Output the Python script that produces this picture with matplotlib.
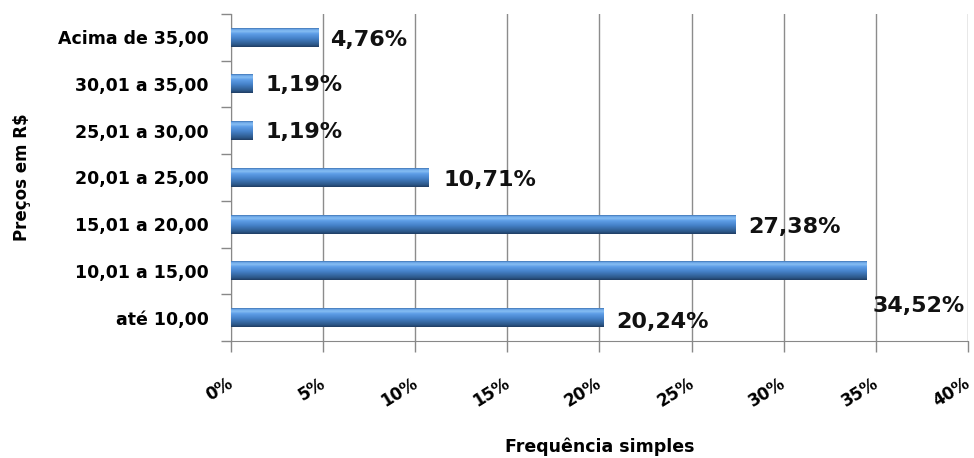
import numpy as np
from matplotlib import pyplot as plt
from matplotlib.colors import LinearSegmentedColormap

categories = ['até 10,00', '10,01 a 15,00', '15,01 a 20,00', '20,01 a 25,00',
              '25,01 a 30,00', '30,01 a 35,00', 'Acima de 35,00']
values = [20.24, 34.52, 27.38, 10.71, 1.19, 1.19, 4.76]
labels = ['20,24%', '34,52%', '27,38%', '10,71%', '1,19%', '1,19%', '4,76%']
# label offsets (points) from bar end; the 34,52% one was dragged below the bar
offsets = [(9, -3), (4, -25), (9, -2), (11, -2), (9, -1), (9, -1), (8, -2)]
xticks = [0, 5, 10, 15, 20, 25, 30, 35, 40]

plt.rcParams['font.family'] = ['DejaVu Sans']

fig = plt.figure(figsize=(9.74, 4.58), dpi=100)
ax = fig.add_axes([0.2372, 0.2555, 0.7566, 0.7139])

grad = LinearSegmentedColormap.from_list('bar3d', [
    (0.0, '#1f3d63'), (0.12, '#2c5788'), (0.45, '#4581c8'),
    (0.7, '#5d9de6'), (0.84, '#86bdf3'), (0.94, '#6aa5e6'), (1.0, '#3f74b3')])
g = np.linspace(0, 1, 64).reshape(-1, 1)

h = 0.4
for i, v in enumerate(values):
    ax.imshow(g, cmap=grad, aspect='auto', origin='lower',
              extent=(0, v, i - h / 2, i + h / 2), zorder=3)
    ax.annotate(labels[i], (v, i), xytext=offsets[i], textcoords='offset points',
                ha='left', va='center', fontsize=16, fontweight='bold',
                color='#111111', zorder=4)

ax.set_xlim(0, 40)
ax.set_ylim(-0.5, len(categories) - 0.5)
ax.set_xticks(xticks)
ax.set_xticklabels([])
# rotated tick labels, nudged left of the tick like the original
for t in xticks:
    ax.annotate('%d%%' % t, (t, 0), xycoords=('data', 'axes fraction'),
                xytext=(-3, -24), textcoords='offset points', rotation=32,
                ha='right', va='top', rotation_mode='anchor',
                fontsize=12, fontweight='bold', annotation_clip=False)
ax.set_yticks(range(len(categories)))
ax.set_yticklabels(categories, fontsize=12.5, fontweight='bold')
ax.set_yticks(np.arange(-0.5, len(categories), 1), minor=True)
ax.tick_params(axis='y', which='major', length=0, pad=16)
ax.tick_params(axis='y', which='minor', length=7, color='#888888', width=1)
ax.tick_params(axis='x', length=8, color='#888888', width=1)

ax.grid(axis='x', color='#8c8c8c', lw=1, zorder=0)
for s in ['top', 'right']:
    ax.spines[s].set_visible(False)
for s in ['left', 'bottom']:
    ax.spines[s].set_color('#888888')

ax.set_xlabel('Frequência simples', fontsize=12.5, fontweight='bold')
ax.xaxis.set_label_coords(0.5, -0.295)
ax.set_ylabel('Preços em R$', fontsize=12, fontweight='bold')
ax.yaxis.set_label_coords(-0.272, 0.5)

fig.savefig('out.png', dpi=100)
